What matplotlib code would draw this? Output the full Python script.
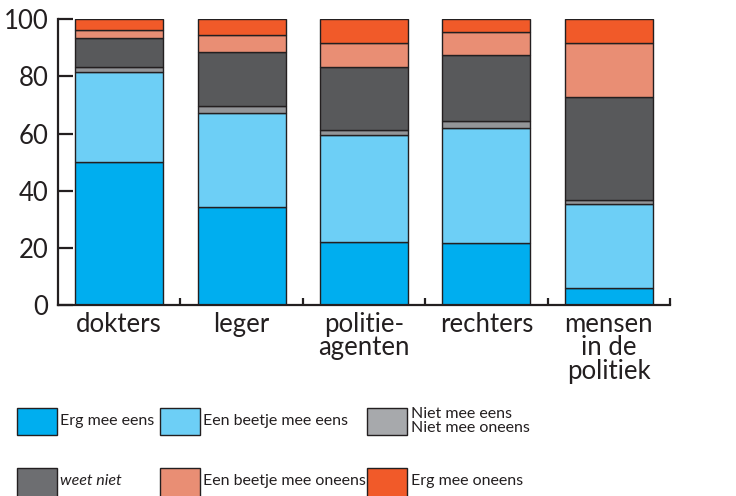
import matplotlib
matplotlib.use("Agg")
import matplotlib.pyplot as plt
from matplotlib.patches import Rectangle
from matplotlib.ticker import FixedLocator
import numpy as np

plt.rcParams['font.family'] = ['Lato', 'DejaVu Sans']

categories = ["dokters", "leger", "politie-\nagenten", "rechters", "mensen\nin de\npolitiek"]
series_names = ["Erg mee eens", "Een beetje mee eens", "Niet mee eens\nNiet mee oneens",
                "weet niet", "Een beetje mee oneens", "Erg mee oneens"]
erg_mee_eens = [50.0, 34.2, 22.2, 21.6, 5.8]
beetje_mee_eens = [31.7, 33.1, 37.2, 40.2, 29.6]
niet_niet = [1.5, 2.4, 1.9, 2.6, 1.5]
weet_niet = [10.1, 18.7, 22.1, 23.2, 35.8]
beetje_mee_oneens = [2.8, 6.1, 8.4, 8.1, 19.0]
erg_mee_oneens = [3.9, 5.5, 8.2, 4.3, 8.3]
yticks = [0, 20, 40, 60, 80, 100]

series = [erg_mee_eens, beetje_mee_eens, niet_niet, weet_niet, beetje_mee_oneens, erg_mee_oneens]
colors = ["#00AEEF", "#6DCFF6", "#939598", "#58595B", "#E98E74", "#F15A29"]
legend_colors = ["#00AEEF", "#6DCFF6", "#A7A9AC", "#6D6E71", "#E98E74", "#F15A29"]
edge = "#231F20"

fig = plt.figure(figsize=(7.36, 4.96), dpi=100)
ax = fig.add_axes([58/736, (496-305)/496, (670-58)/736, (305-19.3)/496])

x = np.arange(len(categories))
bottom = np.zeros(len(categories))
for vals, c in zip(series, colors):
    ax.bar(x, vals, width=0.72, bottom=bottom, color=c, edgecolor=edge, linewidth=1.0, zorder=2)
    bottom += np.array(vals)

ax.set_xlim(-0.5, 4.5)
ax.set_ylim(0, 100)
for s in ['top', 'right']:
    ax.spines[s].set_visible(False)
for s in ['left', 'bottom']:
    ax.spines[s].set_linewidth(1.6)
    ax.spines[s].set_color(edge)
    ax.spines[s].set_zorder(3)

ax.set_yticks(yticks)
ax.set_yticklabels([str(v) for v in yticks])
ax.tick_params(axis='y', direction='in', length=11, width=1.6, color=edge,
               labelsize=18.5, labelcolor=edge, pad=7)

ax.set_xticks(x)
ax.set_xticklabels(categories, linespacing=0.92)
ax.tick_params(axis='x', which='major', length=0, labelsize=18.5, labelcolor=edge, pad=5)
ax.xaxis.set_minor_locator(FixedLocator([0.5, 1.5, 2.5, 3.5, 4.5]))
ax.tick_params(axis='x', which='minor', direction='in', length=5, width=1.6, color=edge)

# legend drawn manually
cols_box = [17, 160, 367]
cols_text = [60, 203, 411]
rows = [(408, 435, 421), (468, 498, 481)]
for i, (name, c) in enumerate(zip(series_names, legend_colors)):
    r, col = divmod(i, 3)
    y0, y1, yc = rows[r]
    fig.patches.append(Rectangle((cols_box[col]/736, (496-y1)/496), 40/736, (y1-y0)/496,
                                 transform=fig.transFigure, facecolor=c, edgecolor=edge,
                                 linewidth=1.0))
    style = 'italic' if name == "weet niet" else 'normal'
    fig.text(cols_text[col]/736, (496-yc)/496, name, fontsize=11.5, color=edge,
             va='center', ha='left', fontstyle=style, linespacing=1.05)

fig.savefig("out.png", dpi=100)
